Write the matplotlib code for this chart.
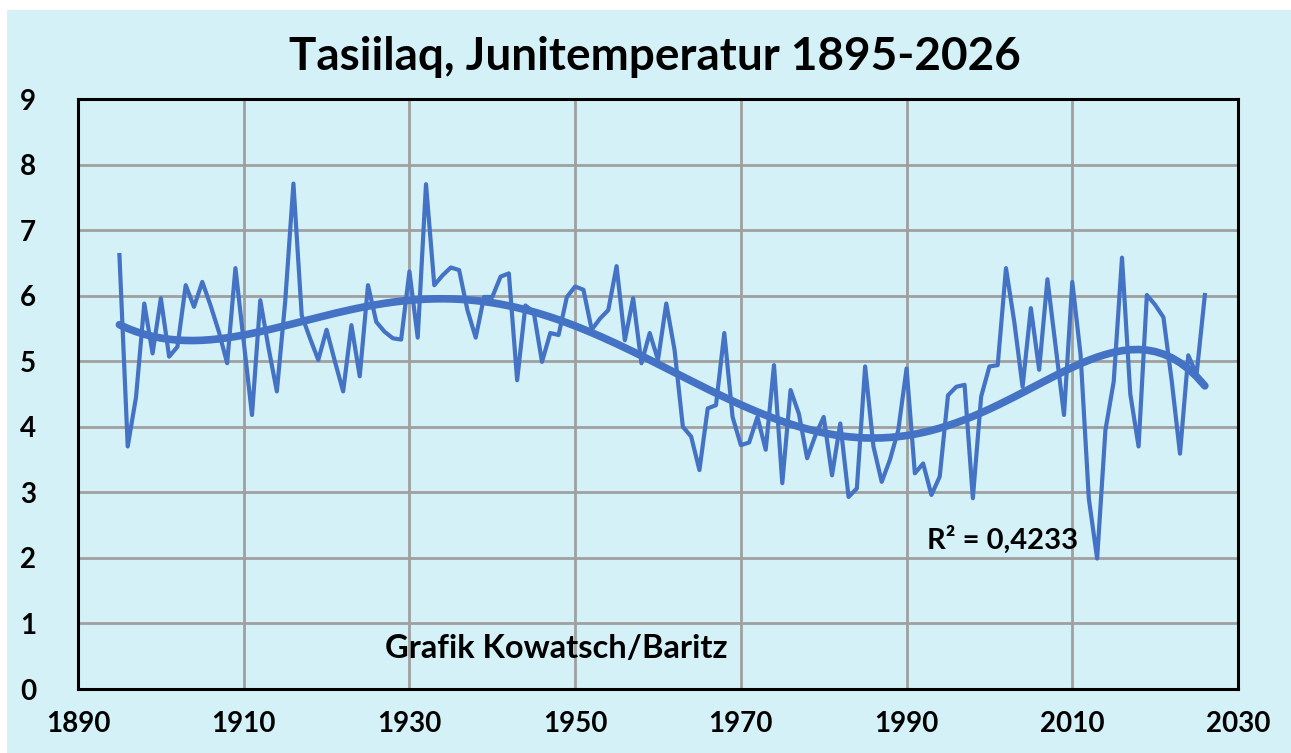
import numpy as np
import matplotlib.pyplot as plt
from matplotlib.patches import Rectangle

# June temperature, Tasiilaq 1895-2026
years = np.arange(1895, 2027)
temps = [
    6.62, 3.70, 4.45, 5.88, 5.12, 5.96, 5.07, 5.22, 6.16, 5.83,   # 1895-1904
    6.21, 5.85, 5.45, 4.97, 6.42, 5.30, 4.18, 5.93, 5.20, 4.54,   # 1905-1914
    5.90, 7.71, 5.70, 5.35, 5.02, 5.48, 5.00, 4.54, 5.55, 4.77,   # 1915-1924
    6.16, 5.60, 5.45, 5.35, 5.33, 6.37, 5.36, 7.70, 6.16, 6.31,   # 1925-1934
    6.43, 6.39, 5.78, 5.36, 5.98, 5.98, 6.29, 6.34, 4.71, 5.85,   # 1935-1944
    5.75, 4.99, 5.43, 5.40, 5.98, 6.14, 6.09, 5.48, 5.65, 5.78,   # 1945-1954
    6.45, 5.32, 5.96, 4.97, 5.43, 5.02, 5.88, 5.17, 4.00, 3.85,   # 1955-1964
    3.34, 4.28, 4.33, 5.43, 4.15, 3.72, 3.76, 4.15, 3.65, 4.94,   # 1965-1974
    3.14, 4.56, 4.20, 3.52, 3.87, 4.15, 3.26, 4.05, 2.93, 3.06,   # 1975-1984
    4.92, 3.70, 3.16, 3.50, 3.95, 4.89, 3.29, 3.44, 2.96, 3.24,   # 1985-1994
    4.48, 4.61, 4.64, 2.91, 4.46, 4.92, 4.94, 6.42, 5.60, 4.61,   # 1995-2004
    5.81, 4.87, 6.25, 5.22, 4.18, 6.21, 5.10, 2.90, 1.99, 3.95,   # 2005-2014
    4.69, 6.58, 4.50, 3.70, 6.01, 5.86, 5.67, 4.70, 3.59, 5.09,   # 2015-2024
    4.80, 6.01,                                                   # 2025-2026
]
temps = np.array(temps)

x_ticks = np.arange(1890, 2031, 20)
y_ticks = np.arange(0, 10, 1)

# polynomial trend (6th order, like the Excel trendline)
xs = (years - 1960) / 50.0
coef = np.polyfit(xs, temps, 6)
trend = np.polyval(coef, xs)

line_col = '#4472C4'
bg_col = '#D3F1F6'
font = 'Lato'

fig = plt.figure(figsize=(12.91, 7.53), dpi=100)
fig.patch.set_facecolor('white')
fig.patches.append(Rectangle((7 / 1291, 0), 1 - 7 / 1291, 1 - 10 / 753,
                             transform=fig.transFigure, facecolor=bg_col,
                             edgecolor='none', zorder=-10))

ax = fig.add_axes([78 / 1291, 1 - 689 / 753, (1238 - 78) / 1291, (689 - 99) / 753])
ax.set_facecolor(bg_col)

ax.plot(years, temps, color=line_col, lw=3, zorder=3)
ax.plot(years, trend, color=line_col, lw=5.5, solid_capstyle='round', zorder=4)

ax.set_xlim(1890, 2030)
ax.set_ylim(0, 9)
ax.set_xticks(x_ticks)
ax.set_yticks(y_ticks)
ax.grid(True, color='#A0A0A0', lw=2, zorder=0)
ax.set_axisbelow(True)
for s in ax.spines.values():
    s.set_color('black')
    s.set_linewidth(2.2)
ax.tick_params(length=0, labelsize=20, pad=16)
ax.tick_params(axis='y', pad=30)
for lab in ax.get_xticklabels() + ax.get_yticklabels():
    lab.set_fontfamily(font)
    lab.set_fontweight('bold')

fig.text(655 / 1291, 1 - 57 / 753, 'Tasiilaq, Junitemperatur 1895-2026',
         ha='center', va='center', fontsize=33, fontweight='bold', family=font)
ax.text(1927, 0.62, 'Grafik Kowatsch/Baritz', ha='left', va='center',
        fontsize=23.5, fontweight='bold', family=font)
ax.text(1992.5, 2.28, 'R² = 0,4233', ha='left', va='center',
        fontsize=21, fontweight='bold', family=font)

fig.savefig('out.png', dpi=100, facecolor=fig.get_facecolor())
